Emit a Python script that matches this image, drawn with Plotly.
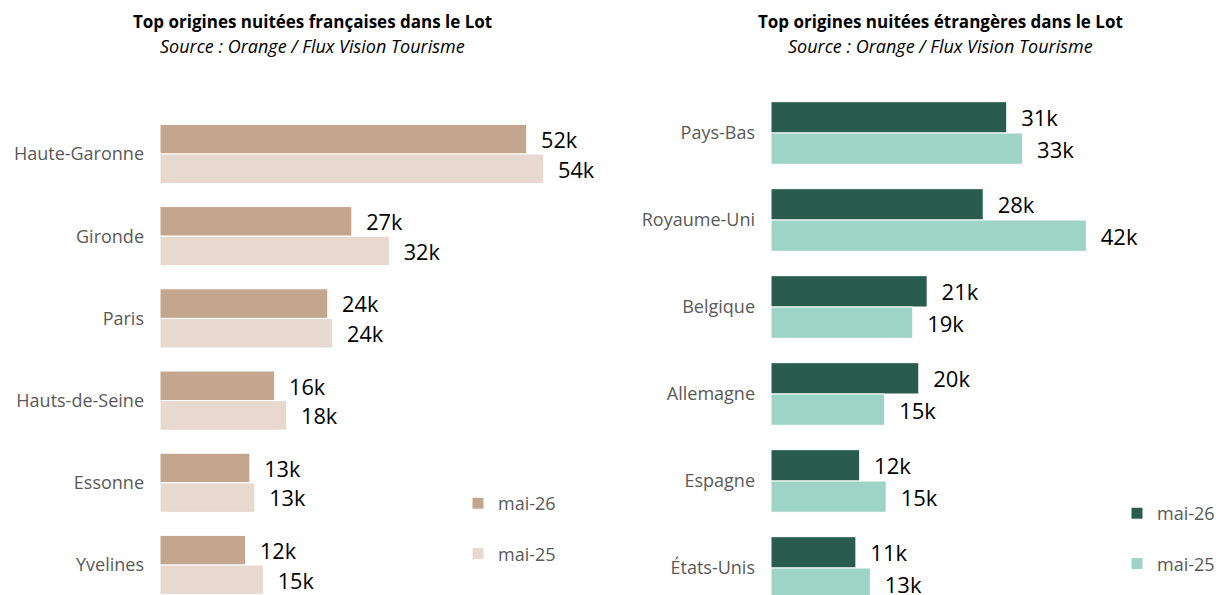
import plotly.graph_objects as go
from plotly.subplots import make_subplots

fr_categories = ["Haute-Garonne", "Gironde", "Paris", "Hauts-de-Seine", "Essonne", "Yvelines"]
fr_mai26 = [51.8, 27.1, 23.7, 16.2, 12.7, 12.1]
fr_mai25 = [54.2, 32.4, 24.4, 17.9, 13.4, 14.6]

et_categories = ["Pays-Bas", "Royaume-Uni", "Belgique", "Allemagne", "Espagne", "États-Unis"]
et_mai26 = [31.1, 28.0, 20.6, 19.5, 11.7, 11.2]
et_mai25 = [33.2, 41.6, 18.7, 15.0, 15.2, 13.1]

series_names = ["mai-26", "mai-25"]
FONT = "Open Sans"
W, H = 1216, 595

fig = make_subplots(rows=1, cols=2)

fr_colors = ["#C4A58E", "#E8D9D0"]
et_colors = ["#2A5C4E", "#9DD4C5"]
txt = "\u00a0\u00a0%{x:.0f}k"

for i, (vals, name) in enumerate(zip([fr_mai26, fr_mai25], series_names)):
    fig.add_trace(go.Bar(
        y=fr_categories, x=vals, orientation="h", name=name,
        marker=dict(color=fr_colors[i], line=dict(color="white", width=1)),
        texttemplate=txt, textposition="outside", cliponaxis=False,
        textfont=dict(family=FONT, size=22, color="#000000"),
        legend="legend", legendgroup="f" + name, hoverinfo="x+y",
    ), row=1, col=1)

for i, (vals, name) in enumerate(zip([et_mai26, et_mai25], series_names)):
    fig.add_trace(go.Bar(
        y=et_categories, x=vals, orientation="h", name=name,
        marker=dict(color=et_colors[i], line=dict(color="white", width=1)),
        texttemplate=txt, textposition="outside", cliponaxis=False,
        textfont=dict(family=FONT, size=22, color="#000000"),
        legend="legend2", legendgroup="e" + name, hoverinfo="x+y",
    ), row=1, col=2)

x1a, x1b = 160, 608
x2a, x2b = 771, 1216
fig.update_xaxes(visible=False, showgrid=False, zeroline=False)
fig.update_layout(
    xaxis=dict(domain=[x1a / W, x1b / W], range=[0, (x1b - x1a) / 7.08]),
    xaxis2=dict(domain=[x2a / W, x2b / W], range=[0, (x2b - x2a) / 7.58]),
    yaxis=dict(domain=[0, 1], categoryorder="array", categoryarray=fr_categories,
               range=[(H - 154) / 82.2, -154 / 82.2], showgrid=False, zeroline=False,
               showline=False, ticks="", ticklabelstandoff=15,
               tickfont=dict(family=FONT, size=18, color="#595959")),
    yaxis2=dict(domain=[0, 1], categoryorder="array", categoryarray=et_categories,
                range=[(H - 133) / 87.0, -133 / 87.0], showgrid=False, zeroline=False,
                showline=False, ticks="", ticklabelstandoff=15,
                tickfont=dict(family=FONT, size=18, color="#595959")),
    barmode="group", bargap=0.28, bargroupgap=0,
    width=W, height=H, margin=dict(l=0, r=0, t=0, b=0, autoexpand=False),
    paper_bgcolor="white", plot_bgcolor="white",
    font=dict(family=FONT),
    legend=dict(x=458 / W, xanchor="left", y=1 - 485 / H, yanchor="top",
                tracegroupgap=24, bgcolor="rgba(0,0,0,0)",
                font=dict(family=FONT, size=18, color="#595959")),
    legend2=dict(x=1117 / W, xanchor="left", y=1 - 495 / H, yanchor="top",
                 tracegroupgap=24, bgcolor="rgba(0,0,0,0)",
                 font=dict(family=FONT, size=18, color="#595959")),
    showlegend=True,
)

titles = [
    ("Top origines nuitées françaises dans le Lot", 312),
    ("Top origines nuitées étrangères dans le Lot", 940),
]
for t, cx in titles:
    fig.add_annotation(x=cx / W, y=1 - 22 / H, xref="paper", yref="paper",
                       xanchor="center", yanchor="middle",
                       text="<b>" + t + "</b>", showarrow=False,
                       font=dict(family=FONT, size=17, color="#000000"))
    fig.add_annotation(x=cx / W, y=1 - 46 / H, xref="paper", yref="paper",
                       xanchor="center", yanchor="middle",
                       text="<i>Source : Orange / Flux Vision Tourisme</i>", showarrow=False,
                       font=dict(family=FONT, size=18, color="#000000"))

fig.write_html("out.html", config={"displayModeBar": False},
               post_script="document.body.style.margin='0px';document.body.style.overflow='hidden';")
